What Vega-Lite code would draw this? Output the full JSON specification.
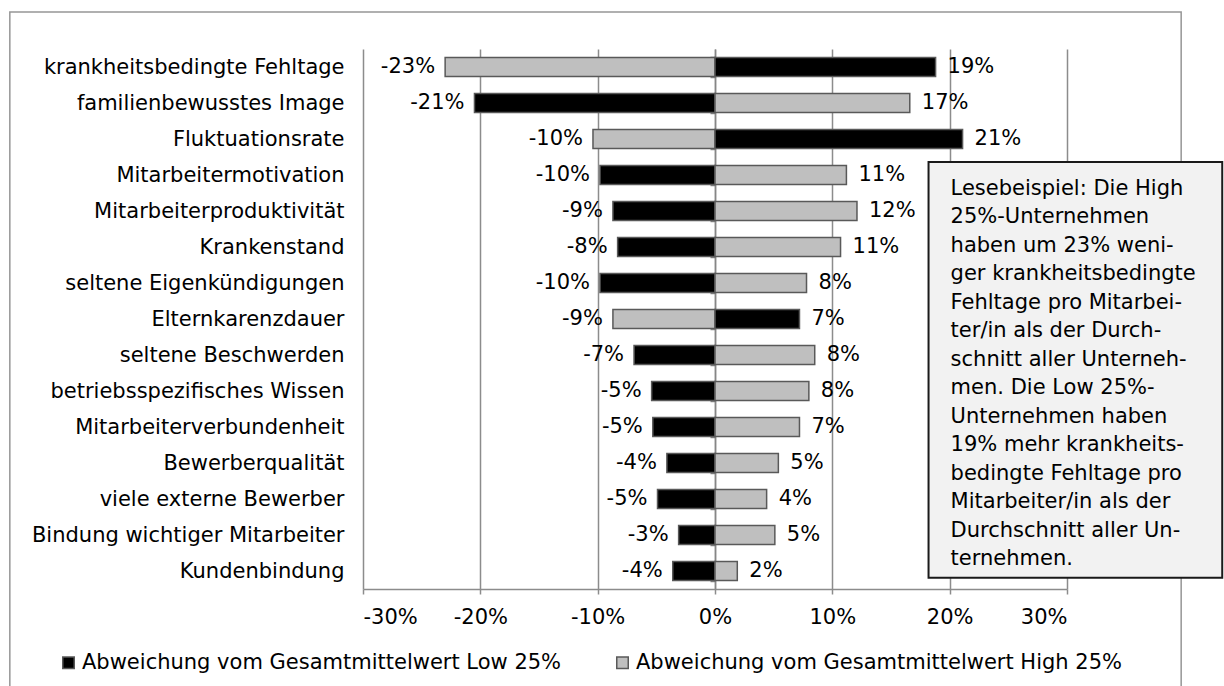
{
  "$schema": "https://vega.github.io/schema/vega-lite/v6.json",
  "width": 704,
  "height": 540,
  "autosize": "none",
  "padding": {"left": 363, "top": 49, "right": 157, "bottom": 97},
  "background": "white",
  "config": {
    "font": "DejaVu Sans",
    "view": {"stroke": null},
    "text": {"font": "DejaVu Sans"}
  },
  "datasets": {
    "bars": [
      {"cat": "krankheitsbedingte Fehltage", "series": "Abweichung vom Gesamtmittelwert High 25%", "value": -0.230, "label": "-23%"},
      {"cat": "krankheitsbedingte Fehltage", "series": "Abweichung vom Gesamtmittelwert Low 25%", "value": 0.188, "label": "19%"},
      {"cat": "familienbewusstes Image", "series": "Abweichung vom Gesamtmittelwert Low 25%", "value": -0.205, "label": "-21%"},
      {"cat": "familienbewusstes Image", "series": "Abweichung vom Gesamtmittelwert High 25%", "value": 0.166, "label": "17%"},
      {"cat": "Fluktuationsrate", "series": "Abweichung vom Gesamtmittelwert High 25%", "value": -0.104, "label": "-10%"},
      {"cat": "Fluktuationsrate", "series": "Abweichung vom Gesamtmittelwert Low 25%", "value": 0.211, "label": "21%"},
      {"cat": "Mitarbeitermotivation", "series": "Abweichung vom Gesamtmittelwert Low 25%", "value": -0.098, "label": "-10%"},
      {"cat": "Mitarbeitermotivation", "series": "Abweichung vom Gesamtmittelwert High 25%", "value": 0.112, "label": "11%"},
      {"cat": "Mitarbeiterproduktivität", "series": "Abweichung vom Gesamtmittelwert Low 25%", "value": -0.087, "label": "-9%"},
      {"cat": "Mitarbeiterproduktivität", "series": "Abweichung vom Gesamtmittelwert High 25%", "value": 0.121, "label": "12%"},
      {"cat": "Krankenstand", "series": "Abweichung vom Gesamtmittelwert Low 25%", "value": -0.083, "label": "-8%"},
      {"cat": "Krankenstand", "series": "Abweichung vom Gesamtmittelwert High 25%", "value": 0.107, "label": "11%"},
      {"cat": "seltene Eigenkündigungen", "series": "Abweichung vom Gesamtmittelwert Low 25%", "value": -0.098, "label": "-10%"},
      {"cat": "seltene Eigenkündigungen", "series": "Abweichung vom Gesamtmittelwert High 25%", "value": 0.078, "label": "8%"},
      {"cat": "Elternkarenzdauer", "series": "Abweichung vom Gesamtmittelwert High 25%", "value": -0.087, "label": "-9%"},
      {"cat": "Elternkarenzdauer", "series": "Abweichung vom Gesamtmittelwert Low 25%", "value": 0.072, "label": "7%"},
      {"cat": "seltene Beschwerden", "series": "Abweichung vom Gesamtmittelwert Low 25%", "value": -0.069, "label": "-7%"},
      {"cat": "seltene Beschwerden", "series": "Abweichung vom Gesamtmittelwert High 25%", "value": 0.085, "label": "8%"},
      {"cat": "betriebsspezifisches Wissen", "series": "Abweichung vom Gesamtmittelwert Low 25%", "value": -0.054, "label": "-5%"},
      {"cat": "betriebsspezifisches Wissen", "series": "Abweichung vom Gesamtmittelwert High 25%", "value": 0.080, "label": "8%"},
      {"cat": "Mitarbeiterverbundenheit", "series": "Abweichung vom Gesamtmittelwert Low 25%", "value": -0.053, "label": "-5%"},
      {"cat": "Mitarbeiterverbundenheit", "series": "Abweichung vom Gesamtmittelwert High 25%", "value": 0.072, "label": "7%"},
      {"cat": "Bewerberqualität", "series": "Abweichung vom Gesamtmittelwert Low 25%", "value": -0.041, "label": "-4%"},
      {"cat": "Bewerberqualität", "series": "Abweichung vom Gesamtmittelwert High 25%", "value": 0.054, "label": "5%"},
      {"cat": "viele externe Bewerber", "series": "Abweichung vom Gesamtmittelwert Low 25%", "value": -0.049, "label": "-5%"},
      {"cat": "viele externe Bewerber", "series": "Abweichung vom Gesamtmittelwert High 25%", "value": 0.044, "label": "4%"},
      {"cat": "Bindung wichtiger Mitarbeiter", "series": "Abweichung vom Gesamtmittelwert Low 25%", "value": -0.031, "label": "-3%"},
      {"cat": "Bindung wichtiger Mitarbeiter", "series": "Abweichung vom Gesamtmittelwert High 25%", "value": 0.051, "label": "5%"},
      {"cat": "Kundenbindung", "series": "Abweichung vom Gesamtmittelwert Low 25%", "value": -0.036, "label": "-4%"},
      {"cat": "Kundenbindung", "series": "Abweichung vom Gesamtmittelwert High 25%", "value": 0.019, "label": "2%"}
    ]
  },
  "layer": [
    {
      "data": {"values": [{}]},
      "mark": {"type": "rect", "fill": "transparent", "stroke": "#969696", "strokeWidth": 1.5},
      "encoding": {
        "x": {"datum": -0.601, "type": "quantitative"},
        "x2": {"datum": 0.3973},
        "y": {"datum": -1.03, "type": "quantitative", "scale": {"domain": [0, 15], "reverse": true}, "axis": null},
        "y2": {"datum": 18.5}
      }
    },
    {
      "data": {"name": "bars"},
      "layer": [
        {
          "mark": {"type": "bar", "stroke": "#595959", "strokeWidth": 1.5},
          "encoding": {
            "y": {
              "field": "cat", "type": "nominal",
              "sort": ["krankheitsbedingte Fehltage", "familienbewusstes Image", "Fluktuationsrate", "Mitarbeitermotivation", "Mitarbeiterproduktivität", "Krankenstand", "seltene Eigenkündigungen", "Elternkarenzdauer", "seltene Beschwerden", "betriebsspezifisches Wissen", "Mitarbeiterverbundenheit", "Bewerberqualität", "viele externe Bewerber", "Bindung wichtiger Mitarbeiter", "Kundenbindung"],
              "scale": {"paddingInner": 0.47, "paddingOuter": 0.235},
              "axis": {
                "title": null, "orient": "left", "offset": -352,
                "domain": true, "domainColor": "#868686", "domainWidth": 1.5,
                "ticks": true, "tickBand": "extent", "tickSize": 5, "tickColor": "#868686", "tickWidth": 1.5,
                "labelPadding": 366, "labelFontSize": 21, "labelColor": "#000000", "labelLimit": 0,
                "grid": false
              }
            },
            "x": {
              "field": "value", "type": "quantitative",
              "scale": {"domain": [-0.3, 0.3], "nice": false},
              "axis": {
                "title": null, "values": [-0.3, -0.2, -0.1, 0, 0.1, 0.2, 0.3],
                "labelExpr": "datum.value < -0.0001 ? '-' + format(-datum.value, '.0%') : format(datum.value, '.0%')",
                "grid": true, "gridColor": "#8c8c8c", "gridWidth": 1.5,
                "domain": true, "domainColor": "#8c8c8c", "domainWidth": 1.5,
                "ticks": true, "tickSize": 5, "tickColor": "#8c8c8c", "tickWidth": 1.5,
                "labelFontSize": 21, "labelColor": "#000000", "labelPadding": 12
              }
            },
            "color": {
              "field": "series", "type": "nominal",
              "scale": {"domain": ["Abweichung vom Gesamtmittelwert Low 25%", "Abweichung vom Gesamtmittelwert High 25%"], "range": ["#000000", "#bfbfbf"]},
              "legend": {
                "title": null, "orient": "none", "legendX": -305, "legendY": 603,
                "direction": "horizontal", "symbolType": "square", "symbolSize": 132,
                "symbolStrokeColor": "#595959", "symbolStrokeWidth": 1.5,
                "labelFontSize": 21, "labelColor": "#000000", "labelLimit": 0,
                "columnPadding": 50, "labelOffset": 3
              }
            }
          }
        },
        {
          "transform": [{"filter": "datum.value < 0"}],
          "mark": {"type": "text", "align": "right", "baseline": "middle", "dx": -10, "fontSize": 21, "color": "#000000"},
          "encoding": {
            "y": {"field": "cat", "type": "nominal", "sort": ["krankheitsbedingte Fehltage", "familienbewusstes Image", "Fluktuationsrate", "Mitarbeitermotivation", "Mitarbeiterproduktivität", "Krankenstand", "seltene Eigenkündigungen", "Elternkarenzdauer", "seltene Beschwerden", "betriebsspezifisches Wissen", "Mitarbeiterverbundenheit", "Bewerberqualität", "viele externe Bewerber", "Bindung wichtiger Mitarbeiter", "Kundenbindung"]},
            "x": {"field": "value", "type": "quantitative"},
            "text": {"field": "label"}
          }
        },
        {
          "transform": [{"filter": "datum.value > 0"}],
          "mark": {"type": "text", "align": "left", "baseline": "middle", "dx": 12, "fontSize": 21, "color": "#000000"},
          "encoding": {
            "y": {"field": "cat", "type": "nominal", "sort": ["krankheitsbedingte Fehltage", "familienbewusstes Image", "Fluktuationsrate", "Mitarbeitermotivation", "Mitarbeiterproduktivität", "Krankenstand", "seltene Eigenkündigungen", "Elternkarenzdauer", "seltene Beschwerden", "betriebsspezifisches Wissen", "Mitarbeiterverbundenheit", "Bewerberqualität", "viele externe Bewerber", "Bindung wichtiger Mitarbeiter", "Kundenbindung"]},
            "x": {"field": "value", "type": "quantitative"},
            "text": {"field": "label"}
          }
        }
      ]
    },
    {
      "data": {"values": [{}]},
      "mark": {"type": "rect", "fill": "#f2f2f2", "stroke": "#1a1a1a", "strokeWidth": 2},
      "encoding": {
        "x": {"datum": 0.182, "type": "quantitative"},
        "x2": {"datum": 0.4323},
        "y": {"datum": 3.14, "type": "quantitative", "scale": {"domain": [0, 15], "reverse": true}, "axis": null},
        "y2": {"datum": 14.69}
      }
    },
    {
      "data": {"values": [{}]},
      "mark": {
        "type": "text", "align": "left", "baseline": "top", "fontSize": 21, "lineHeight": 28.5, "color": "#000000",
        "text": ["Lesebeispiel: Die High", "25%-Unternehmen", "haben um 23% weni-", "ger krankheitsbedingte", "Fehltage pro Mitarbei-", "ter/in als der Durch-", "schnitt aller Unterneh-", "men. Die Low 25%-", "Unternehmen haben", "19% mehr krankheits-", "bedingte Fehltage pro", "Mitarbeiter/in als der", "Durchschnitt aller Un-", "ternehmen."]
      },
      "encoding": {
        "x": {"datum": 0.2008, "type": "quantitative"},
        "y": {"datum": 3.58, "type": "quantitative", "scale": {"domain": [0, 15], "reverse": true}, "axis": null}
      }
    }
  ],
  "resolve": {"scale": {"y": "independent"}}
}
